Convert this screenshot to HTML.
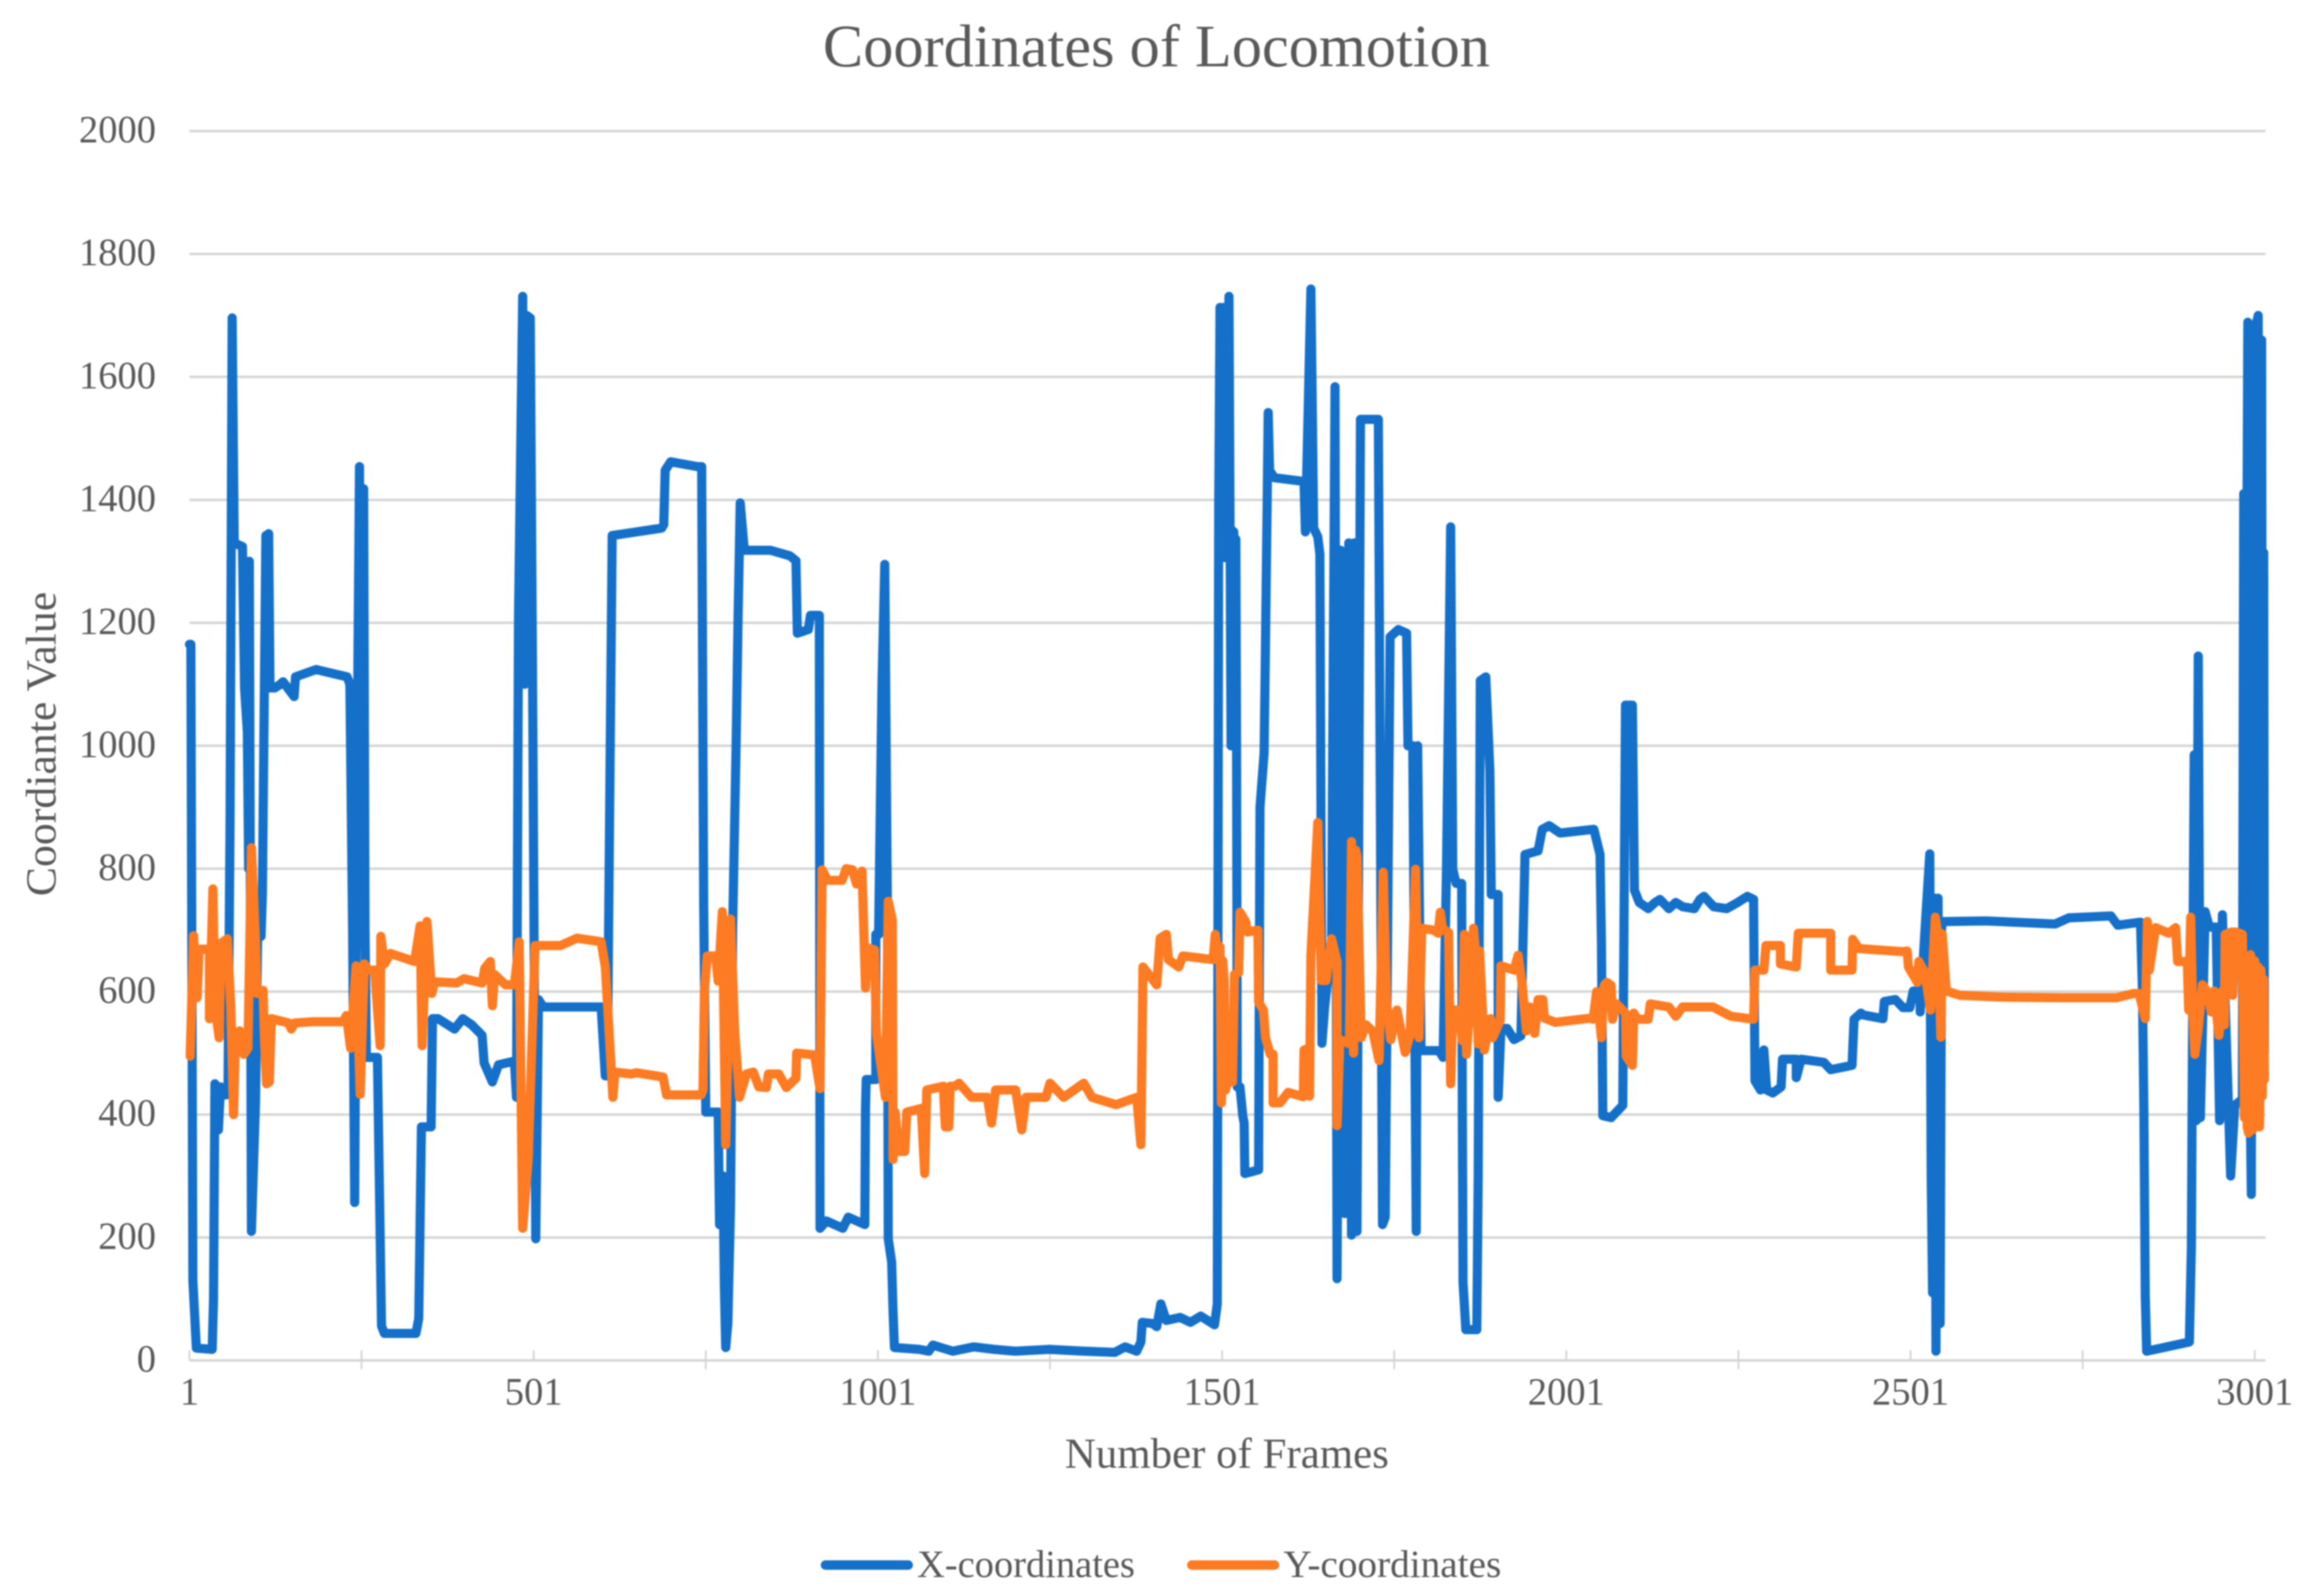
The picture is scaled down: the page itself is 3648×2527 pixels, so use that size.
<!DOCTYPE html>
<html lang="en">
<head>
<meta charset="utf-8">
<title>Coordinates of Locomotion</title>
<style>
  html, body { margin: 0; padding: 0; background: #fff; }
  svg { display: block; font-family: "Liberation Serif", serif; filter: blur(1px); }
  text { fill: #595959; }
</style>
</head>
<body>
<svg id="chart" xmlns="http://www.w3.org/2000/svg" width="3648" height="2527" viewBox="0 0 3648 2527">
  <rect x="0" y="0" width="3648" height="2527" fill="#ffffff"/>
  <text x="1303" y="105" font-size="95" textLength="1056" lengthAdjust="spacingAndGlyphs">Coordinates of Locomotion</text>
  <g id="grid"></g>
  <g id="xaxis"></g>
  <g id="yaxis"></g>
  <text transform="translate(88,1419) rotate(-90)" font-size="68" textLength="482" lengthAdjust="spacingAndGlyphs">Coordiante Value</text>
  <text x="1686" y="2324" font-size="68" textLength="513" lengthAdjust="spacingAndGlyphs">Number of Frames</text>
  <g id="series"></g>
  <g>
    <g>
      <line x1="1307" y1="2478" x2="1438" y2="2478" stroke="#1570c9" stroke-width="15" stroke-linecap="round"/>
      <text x="1452" y="2497" font-size="61" textLength="345" lengthAdjust="spacingAndGlyphs">X-coordinates</text>
    </g>
    <g>
      <line x1="1887" y1="2478" x2="2018" y2="2478" stroke="#fd7b22" stroke-width="15" stroke-linecap="round"/>
      <text x="2032" y="2497" font-size="61" textLength="345" lengthAdjust="spacingAndGlyphs">Y-coordinates</text>
    </g>
  </g>
</svg>
<script>
const yTickValues = [0, 200, 400, 600, 800, 1000, 1200, 1400, 1600, 1800, 2000];
const xTickFrames = [1, 251, 501, 751, 1001, 1251, 1501, 1751, 2001, 2251, 2501, 2751, 3001];
const xTickLabels = ["1", "", "501", "", "1001", "", "1501", "", "2001", "", "2501", "", "3001"];

const xSeriesFrames = [
  1,3,6,11,34,36,38,43,46,54,
  57,60,63,66,78,81,85,87,88,91,
  97,100,105,107,109,112,114,116,118,125,
  133,137,153,155,185,230,234,238,241,244,
  248,250,251,253,254,256,258,274,280,284,330,334,
  338,352,354,362,386,398,411,426,429,441,
  450,473,476,479,485,488,491,496,500,504,
  508,515,599,605,608,612,615,687,690,692,
  700,739,745,748,751,769,771,773,776,778,
  780,783,787,790,795,798,801,807,845,873,
  882,884,900,903,916,917,926,950,958,982,
  983,984,998,998,1002,1007,1011,1015,1016,1021,
  1023,1025,1061,1075,1081,1095,1110,1140,1170,1200,
  1250,1300,1345,1360,1377,1383,1385,1400,1406,1412,
  1420,1440,1455,1470,1490,1494,1496,1498,1500,1503,
  1505,1511,1514,1516,1518,1519,1521,1522,1523,1527,1531,1533,
  1534,1554,1556,1562,1564,1568,1570,1577,1620,1622,
  1630,1634,1640,1643,1646,1650,1660,1665,1668,1673,
  1679,1685,1689,1693,1697,1702,1728,1734,1738,1745,
  1757,1769,1771,1778,1783,1785,1790,1816,1822,1827,
  1833,1836,1841,1849,1850,1851,1855,1871,1873,1876,
  1884,1890,1892,1902,1902,1906,1915,1925,1935,1941,
  1960,1966,1976,1992,2041,2050,2052,2054,2066,2083,
  2087,2097,2100,2107,2120,2130,2137,2150,2160,2170,2187,2195,2201,2215,2234,2250,2264,
  2273,2275,2283,2288,2292,2301,2313,2315,2335,2335,
  2342,2375,2385,2416,2419,2429,2432,2461,2463,2479,
  2490,2500,2505,2515,2515,2522,2529,2531,2533,2535,2536,2538,2540,
  2541,2543,2544,2546,2547,2553,2610,2711,2731,2792,2802,2835,
  2838,2840,2842,2844,2906,2909,2910,2913,2916,2919,
  2922,2929,2935,2945,2950,2954,2966,2972,2983,2985,
  2988,2991,2993,2994,2996,2998,2999,3001,3002,3004,3006,3008,3009,3011,3012,3013,
  3014,3015
];
const xSeriesValues = [
  1165,1165,130,20,18,100,450,375,445,432,
  440,880,1696,1330,1324,1094,1023,800,1300,210,
  420,690,690,760,1000,1342,1300,1345,1094,1094,
  1100,1104,1080,1112,1124,1112,1100,700,257,900,
  1454,700,800,1400,1418,700,493,493,56,44,44,68,
  380,380,556,556,539,556,546,529,484,453,
  481,487,428,1212,1731,1100,1700,1696,1000,198,
  587,575,575,463,463,976,1342,1354,1360,1448,
  1462,1454,1454,740,404,404,221,220,300,120,
  21,60,250,700,1000,1212,1395,1318,1318,1309,
  1301,1183,1189,1212,1212,215,227,215,233,221,
  410,457,457,693,693,1100,1295,700,198,160,
  80,21,18,15,25,20,15,22,18,15,
  18,15,13,22,15,30,62,60,55,92,
  65,70,62,72,58,92,1389,1713,1306,1713,
  1306,1731,1000,1350,1348,1000,1336,1000,445,445,398,386,
  304,310,900,988,1165,1542,1448,1436,1430,1348,
  1743,1354,1340,1312,516,575,681,1584,133,1318,
  239,1330,204,1330,210,1531,1531,221,233,1177,
  1189,1183,1000,1000,210,1000,504,504,493,800,
  1356,799,776,776,398,127,50,50,300,1106,
  1112,959,758,758,428,540,540,522,528,823,
  829,864,870,858,864,823,681,398,395,415,
  1066,1066,765,745,735,745,750,735,745,738,735,750,755,738,735,745,755,
  750,455,440,505,440,435,445,490,490,460,
  490,485,473,480,555,565,562,556,584,587,
  574,574,601,601,567,700,824,300,110,700,752,15,700,
  752,60,60,700,714,714,715,710,720,723,708,713,
  600,405,105,15,30,185,405,985,390,1146,
  395,730,705,705,390,725,300,415,425,1410,
  900,1689,700,450,270,1680,1000,1680,500,1690,1700,500,1000,1660,800,460,
  1314,500
];

const ySeriesFrames = [
  2,7,12,15,30,30,35,38,44,47,
  56,61,65,68,74,80,86,91,97,99,
  108,110,113,117,120,145,149,154,181,224,
  229,235,238,243,249,255,261,270,278,279,
  284,293,328,336,339,346,353,357,389,400,
  426,430,438,441,444,460,473,480,485,493,
  503,540,564,599,605,616,619,643,650,689,
  694,744,747,749,753,765,769,775,780,787,
  793,800,810,820,828,839,842,857,868,882,
  883,909,917,920,928,949,955,964,970,978,
  983,986,996,999,1012,1016,1022,1023,1026,1031,
  1040,1043,1064,1069,1072,1096,1099,1104,1106,1113,
  1119,1137,1160,1166,1172,1201,1210,1216,1245,1251,
  1271,1300,1312,1347,1377,1383,1386,1406,1411,1420,
  1423,1438,1444,1488,1491,1495,1498,1500,1502,1504,1506,1509,
  1512,1516,1519,1525,1527,1535,1538,1553,1554,1561,
  1564,1571,1575,1575,1585,1597,1619,1620,1627,1628,
  1630,1640,1645,1652,1660,1668,1668,1672,1686,1689,
  1692,1695,1697,1703,1710,1720,1729,1735,1740,1746,1755,1767,
  1774,1782,1787,1791,1808,1815,1818,1821,1830,1833,
  1836,1845,1850,1853,1856,1862,1866,1869,1873,1875,
  1882,1891,1894,1905,1906,1925,1931,1937,1943,1948,
  1955,1960,1967,1969,1985,2037,2040,2045,2052,2056,
  2060,2066,2068,2074,2087,2088,2097,2099,2104,2120,
  2123,2150,2160,2170,2214,2240,2273,2275,2288,2291,
  2312,2312,2335,2338,2385,2385,2416,2417,2426,2490,
  2496,2498,2511,2513,2522,2530,2537,2541,2545,2547,
  2553,2573,2634,2720,2800,2825,2833,2842,2845,2848,
  2857,2876,2886,2889,2903,2905,2908,2911,2914,2919,
  2925,2932,2938,2942,2949,2954,2957,2958,2968,2969,
  2973,2983,2986,2987,2988,2990,2992,2993,2995,2996,2998,2999,
  3001,3002,3003,3005,3006,3007,3008,3010,3012,3013,3014,3015
];
const ySeriesValues = [
  495,691,590,669,669,556,767,577,525,679,
  686,577,400,532,536,498,508,834,679,597,
  602,520,450,453,556,549,539,549,551,551,
  561,508,560,642,433,645,635,635,512,690,
  645,662,649,707,512,714,597,616,614,621,
  614,638,649,577,628,611,611,681,215,327,
  675,675,687,681,640,428,469,466,468,461,
  432,432,440,600,658,658,617,730,351,718,
  534,428,466,469,445,444,466,466,444,459,
  500,497,442,798,781,781,800,798,775,796,
  606,671,668,531,428,747,716,327,404,340,
  340,404,410,304,440,446,380,380,446,446,
  451,428,428,386,440,440,375,428,428,451,
  428,451,428,416,428,351,640,611,687,693,
  652,640,658,652,693,660,673,419,650,618,440,457,
  550,453,628,631,729,714,697,700,583,570,
  525,498,498,419,419,436,429,505,508,430,
  659,875,618,618,686,649,382,522,515,844,
  500,830,820,525,546,535,488,794,583,522,570,501,
  530,799,525,703,700,695,729,703,696,450,
  570,570,520,693,498,600,703,666,515,666,
  505,556,525,553,642,635,659,611,536,575,
  532,587,587,557,550,557,555,600,525,610,
  615,610,555,580,565,495,480,565,555,555,
  580,575,560,575,575,560,555,635,635,675,
  675,645,640,695,695,635,635,685,670,665,
  666,640,615,649,630,570,721,690,526,694,
  601,594,591,590,590,597,597,556,714,635,
  704,695,704,649,649,570,721,567,498,540,
  611,600,567,601,529,601,546,693,697,594,
  697,693,395,640,640,380,370,650,660,385,375,650,
  650,400,400,640,640,385,380,635,430,620,620,457
];

const SVG_NS = "http://www.w3.org/2000/svg";
const plotLeft = 300, plotRight = 3587, plotBottom = 2154;
function xScale(frame) { return plotLeft + (frame - 1) * 1.09; }
function yScale(value) { return plotBottom - value * 0.97325; }

function make(tag, attrs, parent) {
  const el = document.createElementNS(SVG_NS, tag);
  for (const k in attrs) el.setAttribute(k, attrs[k]);
  parent.appendChild(el);
  return el;
}

const grid = document.getElementById("grid");
const yaxis = document.getElementById("yaxis");
const xaxis = document.getElementById("xaxis");
const seriesGroup = document.getElementById("series");

yTickValues.forEach(function (v) {
  if (v !== 0) {
    const line = make("line", { x1: plotLeft, x2: plotRight, y1: yScale(v), y2: yScale(v), stroke: "#d6d6d6", "stroke-width": 4 }, grid);
    
    
  }
  const label = make("text", { x: 247, y: yScale(v) + 18, "text-anchor": "end", "font-size": 61 }, yaxis);
  label.textContent = String(v);
  
  
});

const axisLine = make("line", { x1: plotLeft, x2: plotRight, y1: plotBottom, y2: plotBottom, stroke: "#d6d6d6", "stroke-width": 4 }, xaxis);



xTickFrames.forEach(function (f, i) {
  const major = xTickLabels[i] !== "";
  const tick = make("line", { x1: xScale(f), x2: xScale(f), y1: plotBottom - 16, y2: plotBottom + (major ? 0 : 14), stroke: "#d6d6d6", "stroke-width": 3 }, xaxis);
  
  
  if (major) {
    const label = make("text", { x: xScale(f), y: 2224, "text-anchor": "middle", "font-size": 61 }, xaxis);
    label.textContent = xTickLabels[i];
    
    
  }
});

function linePoints(frames, values) {
  const n = Math.min(frames.length, values.length);
  const pts = [];
  for (let i = 0; i < n; i++) pts.push(xScale(frames[i]).toFixed(1) + "," + yScale(values[i]).toFixed(1));
  return pts.join(" ");
}

const xLine = make("polyline", { points: linePoints(xSeriesFrames, xSeriesValues), fill: "none", stroke: "#1570c9", "stroke-width": 14.5, "stroke-linejoin": "round", "stroke-linecap": "round" }, seriesGroup);



const yLine = make("polyline", { points: linePoints(ySeriesFrames, ySeriesValues), fill: "none", stroke: "#fd7b22", "stroke-width": 14.5, "stroke-linejoin": "round", "stroke-linecap": "round" }, seriesGroup);


</script>
</body>
</html>
